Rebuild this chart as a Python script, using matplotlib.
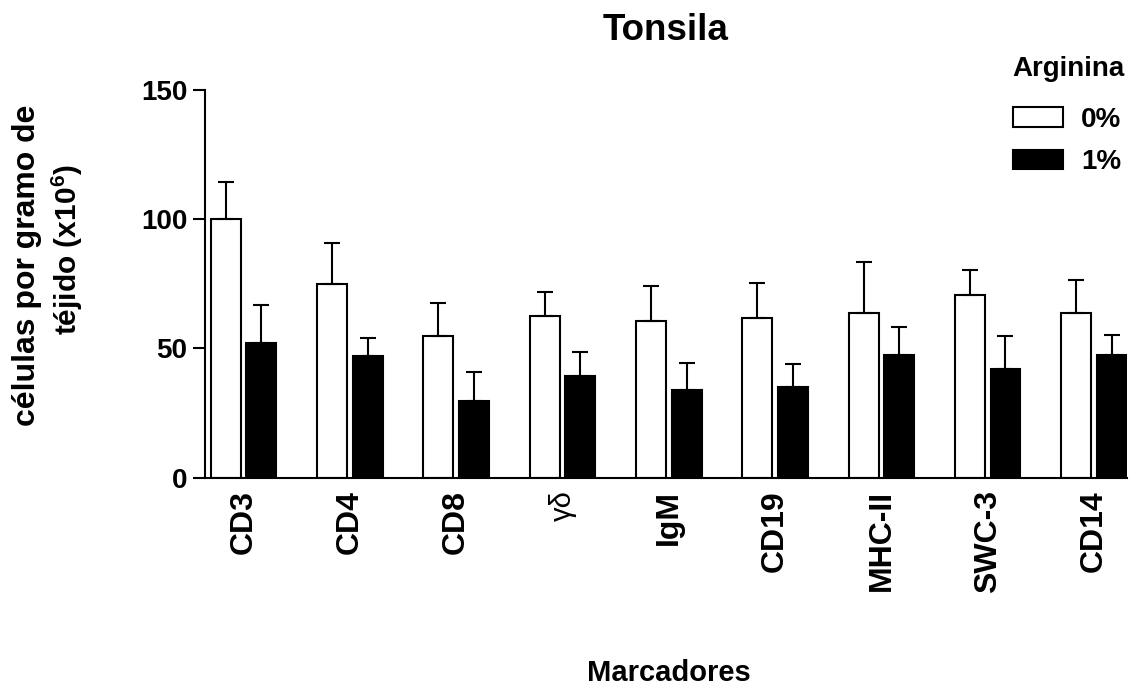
import numpy as np
import matplotlib
matplotlib.use("Agg")
from matplotlib import pyplot as plt

plt.rcParams['font.family'] = ['Liberation Sans', 'DejaVu Sans']
plt.rcParams['font.weight'] = 'bold'
plt.rcParams['mathtext.fontset'] = 'custom'
plt.rcParams['mathtext.rm'] = 'Liberation Sans'
plt.rcParams['mathtext.bf'] = 'Liberation Sans:bold'

markers = ["CD3", "CD4", "CD8", "γδ", "IgM", "CD19", "MHC-II", "SWC-3", "CD14"]
arg_0 = [100.0, 74.9, 55.0, 62.5, 60.6, 61.7, 63.8, 70.5, 63.9]
arg_0_err = [14.4, 15.8, 12.4, 9.4, 13.6, 13.7, 19.7, 9.7, 12.5]
arg_1 = [52.1, 47.2, 29.5, 39.4, 34.0, 34.9, 47.3, 42.1, 47.5]
arg_1_err = [14.9, 6.8, 11.4, 9.2, 10.2, 9.2, 11.0, 12.8, 7.7]

fig = plt.figure(figsize=(11.32, 6.91), dpi=100)
ax = fig.add_axes([0.1811, 0.3087, 0.8145, 0.5611])

x = np.arange(len(markers))
w = 0.282
off = 0.167
ax.bar(x - off, arg_0, w, color='white', edgecolor='black', linewidth=1.5, label='0%')
ax.bar(x + off, arg_1, w, color='black', edgecolor='black', linewidth=1.5, label='1%')
ax.errorbar(x - off, arg_0, yerr=[np.zeros(len(x)), arg_0_err], fmt='none',
            ecolor='black', elinewidth=1.5, capsize=5.6, capthick=1.5)
ax.errorbar(x + off, arg_1, yerr=[np.zeros(len(x)), arg_1_err], fmt='none',
            ecolor='black', elinewidth=1.5, capsize=5.6, capthick=1.5)

ax.set_xlim(-0.362, 8.31)
ax.set_ylim(0, 150)
ax.set_yticks([0, 50, 100, 150])
ax.set_xticks(x)
ax.set_xticklabels(markers, rotation=90, fontsize=23, fontweight='bold')
ax.get_xticklabels()[3].set_fontweight('normal')
ax.get_xticklabels()[3].set_fontsize(21)
ax.tick_params(axis='x', length=0, pad=9)
ax.tick_params(axis='y', length=8.6, width=1.5, labelsize=20, pad=4)
for s in ['top', 'right']:
    ax.spines[s].set_visible(False)
ax.spines['left'].set_linewidth(1.5)
ax.spines['bottom'].set_linewidth(1.5)

ax.set_title("Tonsila", fontsize=26.5, fontweight='bold', pad=36)
fig.text(0.591, 1 - 673 / 691, "Marcadores", fontsize=21, fontweight='bold',
         ha='center', va='center')
fig.text(27 / 1132, 1 - 265 / 691, "células por gramo de",
         fontsize=23, fontweight='bold', rotation=90, ha='center', va='center')
fig.text(67 / 1132, 1 - 250 / 691, "téjido (x10$^{\\mathbf{6}}$)",
         fontsize=21.5, fontweight='bold', rotation=90, ha='center', va='center')

fig.text(1125 / 1132, 1 - 76 / 691, "Arginina", fontsize=20, fontweight='bold',
         ha='right', va='baseline')
leg = ax.legend(loc='upper right', bbox_to_anchor=(0.9935, 0.956), frameon=False,
                fontsize=20, handlelength=1.8, handleheight=0.72, borderpad=0,
                labelspacing=0.58, handletextpad=0.65, borderaxespad=0)

fig.savefig("out.png", dpi=100)
